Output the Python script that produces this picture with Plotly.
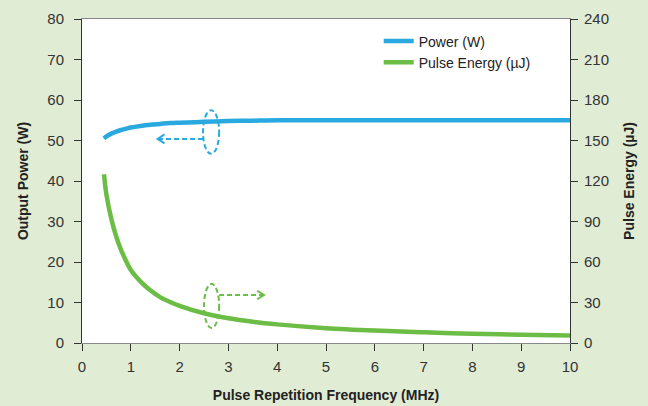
import plotly.graph_objects as go

freq = [0.45, 0.5, 0.6, 0.7, 0.8, 0.9, 1.0, 1.2, 1.4, 1.6, 1.8, 2.0, 2.5, 3.0, 3.5, 4.0, 5.0, 6.0, 7.0, 8.0, 9.0, 10.0]
power_w = [50.5, 51.0, 51.7, 52.2, 52.6, 52.9, 53.2, 53.6, 53.9, 54.1, 54.3, 54.4, 54.6, 54.8, 54.9, 55.0, 55.0, 55.0, 55.0, 55.0, 55.0, 55.0]
energy_uj = [125, 110, 92, 79, 69, 61, 54, 45.5, 39, 34, 30.5, 27.5, 22, 18.3, 15.7, 13.8, 11.0, 9.2, 7.9, 6.9, 6.1, 5.5]

x_ticks = list(range(0, 11))
left_ticks = list(range(0, 81, 10))
right_ticks = list(range(0, 241, 30))

BLUE = "#2aa9e0"
GREEN = "#6cbd45"
BG = "#e1ecd4"
FONT = "Liberation Sans, Arial, sans-serif"

fig = go.Figure()
fig.add_trace(go.Scatter(x=freq, y=power_w, name="Power (W)", mode="lines", legendgroup="p",
                         line=dict(color=BLUE, width=4.5, shape="spline"), yaxis="y"))
fig.add_trace(go.Scatter(x=freq, y=energy_uj, name="Pulse Energy (µJ)", mode="lines", legendgroup="e",
                         line=dict(color=GREEN, width=4.5, shape="spline"), yaxis="y2"))

dash = "5px,3px"
# blue ellipse + arrow to the left
fig.add_shape(type="circle", xref="x", yref="y", x0=2.48, x1=2.81, y0=46.7, y1=57.5,
              line=dict(color=BLUE, width=2, dash=dash))
fig.add_shape(type="line", xref="x", yref="y", x0=2.48, x1=1.56, y0=50.4, y1=50.4,
              line=dict(color=BLUE, width=2, dash=dash))
fig.add_shape(type="path", xref="x", yref="y",
              path="M 1.69,51.5 L 1.55,50.4 L 1.69,49.3",
              line=dict(color=BLUE, width=2))
# green ellipse + arrow to the right
fig.add_shape(type="circle", xref="x", yref="y", x0=2.5, x1=2.81, y0=3.7, y1=14.6,
              line=dict(color=GREEN, width=2, dash=dash))
fig.add_shape(type="line", xref="x", yref="y", x0=2.81, x1=3.71, y0=11.85, y1=11.85,
              line=dict(color=GREEN, width=2, dash=dash))
fig.add_shape(type="path", xref="x", yref="y",
              path="M 3.59,12.9 L 3.73,11.85 L 3.59,10.8",
              line=dict(color=GREEN, width=2))

axis_common = dict(showgrid=False, zeroline=False, ticks="outside", ticklen=7,
                   tickwidth=1, tickcolor="#333", showline=True, automargin=False,
                   tickfont=dict(family=FONT, size=15, color="#333"))
title_font = dict(family=FONT, size=14, color="#222")

fig.update_layout(
    width=648, height=406,
    margin=dict(l=82, r=78, t=19, b=63),
    paper_bgcolor=BG, plot_bgcolor="white",
    font=dict(family=FONT, color="#222"),
    showlegend=True,
    legend=dict(x=0.608, y=0.98, xanchor="left", yanchor="top", bgcolor="rgba(0,0,0,0)",
                font=dict(family=FONT, size=14, color="#222"), itemwidth=30,
                tracegroupgap=0),
    xaxis=dict(range=[0, 10], tickvals=x_ticks, linecolor="#888", mirror=True,
               ticklabelstandoff=3,
               title=dict(text="<b>Pulse Repetition Frequency (MHz)</b>",
                          font=title_font, standoff=16),
               **axis_common),
    yaxis=dict(range=[0, 80], tickvals=left_ticks, linecolor="#333",
               ticklabelstandoff=7,
               title=dict(text="<b>Output Power (W)</b>", font=title_font, standoff=15),
               **axis_common),
    yaxis2=dict(range=[0, 240], tickvals=right_ticks, overlaying="y", side="right",
                linecolor="#333", ticklabelstandoff=3,
                title=dict(text="<b>Pulse Energy (µJ)</b>", font=title_font, standoff=16),
                **axis_common),
)

fig.write_html("out.html", config={"displayModeBar": False},
               post_script="document.body.style.margin='0px';")
